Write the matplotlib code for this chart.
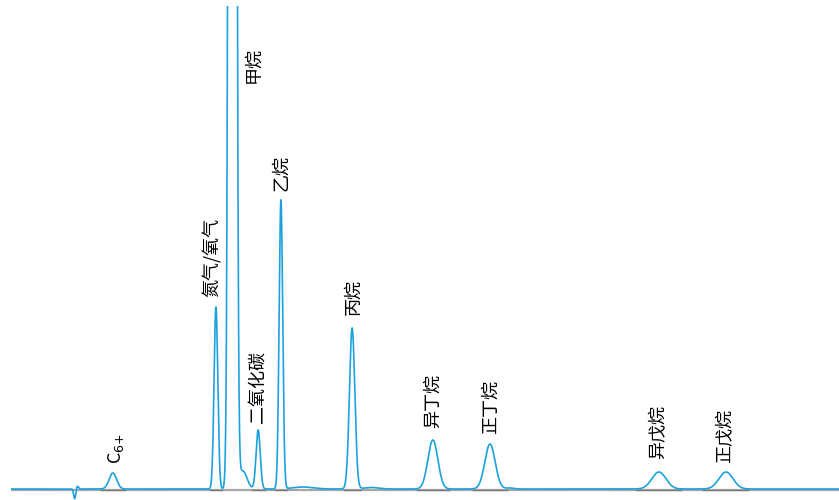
import matplotlib.pyplot as plt
import numpy as np

plt.rcParams['font.family'] = ['Noto Sans CJK SC', 'DejaVu Sans']

# labelled peaks: retention time (min), height (mV), width sigma (min)
peak_names = [r'C$_{6{+}}$', '氮气/氧气', '甲烷', '二氧化碳', '乙烷', '丙烷',
              '异丁烷', '正丁烷', '异戊烷', '正戊烷']
peak_rt = [2.46, 4.95, 5.35, 5.97, 6.52, 8.24, 10.19, 11.57, 15.65, 17.27]
peak_height = [16, 182, 5500, 59, 289, 161, 49, 45, 17, 17]
peak_sigma = [0.09, 0.045, 0.055, 0.05, 0.043, 0.065, 0.12, 0.125, 0.17, 0.17]

# small unlabelled features: injection disturbance and peak tails
extra_rt = [1.54, 1.60, 5.60, 7.05, 8.70, 12.05]
extra_height = [-10, 3, 18, 2, 1.5, 1.0]
extra_sigma = [0.025, 0.03, 0.10, 0.25, 0.18, 0.1]

baseline_level = 1.0

# label offsets (pixels) from the peak apex
label_dx = [3, -4, 0, 0, 0, 1, 0, 1, -1, -1]
label_dy = [10, 11, 0, 8, 10, 14, 13, 11, 14, 10]

t = np.linspace(0, 20, 12001)
signal = np.full_like(t, baseline_level)
for rt, h, s in zip(peak_rt + extra_rt, peak_height + extra_height,
                    peak_sigma + extra_sigma):
    signal += h * np.exp(-0.5 * ((t - rt) / s) ** 2)

fig = plt.figure(figsize=(8.39, 5.0), dpi=100)
ax = fig.add_axes([11 / 839, 0, 828 / 839, 494 / 500])
ax.set_xlim(0, 20)
ax.set_ylim(-10, 484)
ax.axis('off')

ax.axhline(0, color='#a6a6a6', lw=1.6, zorder=1)
for name, rt, h, s in zip(peak_names, peak_rt, peak_height, peak_sigma):
    if name == '甲烷':
        continue
    ax.plot([rt - 3.2 * s, rt + 3.2 * s], [0.2, 0.2], color='#7a7a7a', lw=1.0, zorder=2)

ax.plot(t, signal, color='#1da1de', lw=1.2, zorder=3)

for name, rt, h, dx, dy in zip(peak_names, peak_rt, peak_height, label_dx, label_dy):
    if name == '甲烷':
        ax.annotate(name, xy=(rt, 484), xytext=(21, -41), textcoords='offset pixels',
                    rotation=90, ha='center', va='top', fontsize=13)
        continue
    ax.annotate(name, xy=(rt, h), xytext=(dx, dy), textcoords='offset pixels',
                rotation=90, ha='center', va='bottom', fontsize=13)

fig.savefig('out.png', dpi=100)
